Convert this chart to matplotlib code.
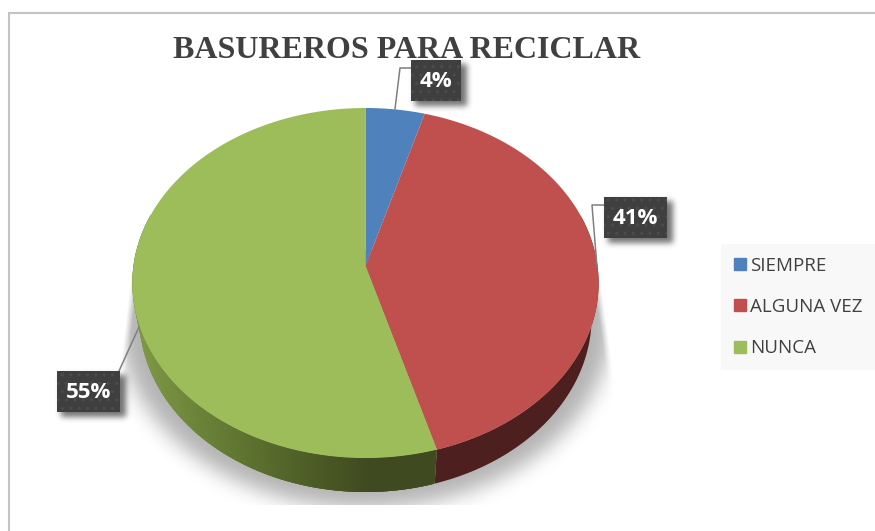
import numpy as np
import matplotlib
matplotlib.use("Agg")
import matplotlib.pyplot as plt
from matplotlib.patches import Rectangle
from matplotlib.lines import Line2D

TITLE = "BASUREROS PARA RECICLAR"
categories = ["SIEMPRE", "ALGUNA VEZ", "NUNCA"]
values = [4.5, 41.0, 54.5]
value_labels = ["4%", "41%", "55%"]
colors = ["#4f81bd", "#c0504d", "#9dbd5b"]

W, H = 875, 531
plt.rcParams['hatch.linewidth'] = 1.0
fig = plt.figure(figsize=(W / 100, H / 100), dpi=100)
ax = fig.add_axes([0, 0, 1, 1])
ax.set_xlim(0, W)
ax.set_ylim(H, 0)
ax.axis("off")

# perspective projection of a unit disc
CX, AY = 365.5, 266.0
UP, DOWN, HALF = 158.0, 192.0, 232.0
K = (DOWN - UP) / (DOWN + UP)
A = UP * (1 + K)
DEPTH = 34.0
SHRINK = 0.97


def proj(theta):
    u, v = np.sin(theta), np.cos(theta)
    d = 1 + K * v
    return CX + HALF * u / d, AY - A * v / d


def proj_low(theta):
    x, y = proj(theta)
    return CX + SHRINK * (x - CX), y + DEPTH


# soft shadows (under everything)
yy, xx = np.mgrid[0:H, 0:W] + 0.5


def blur(img, r):
    kern = np.exp(-0.5 * (np.arange(-3 * r, 3 * r + 1) / r) ** 2)
    kern /= kern.sum()
    img = np.apply_along_axis(lambda m: np.convolve(m, kern, "same"), 0, img)
    return np.apply_along_axis(lambda m: np.convolve(m, kern, "same"), 1, img)


ell = (((xx - CX) / 246.0) ** 2 + ((yy - 322.0) / 186.0) ** 2 < 1).astype(float)
shadow = blur(ell, 10) * 0.30
shadow[yy > 505] = 0
shadow[yy < 250] = 0
left_lim = 133 - (yy - 262) * 13 / 105
right_lim = 598 + (yy - 262) * 15 / 105
shadow *= np.clip((xx - left_lim) / 7, 0, 1) * np.clip((right_lim - xx) / 7, 0, 1)

boxes = [(411, 60, 50), (604, 197, 63), (57, 371, 63)]
BH = 41
bsh = np.zeros((H, W))
for bx, by, bw in boxes:
    bsh[by + 4:by + BH + 5, bx + 4:bx + bw + 6] = 1
bsh = blur(bsh, 3) * 0.55
alpha = 1 - (1 - shadow) * (1 - bsh)
rgba = np.zeros((H, W, 4))
rgba[..., 3] = alpha
ax.imshow(rgba, extent=(0, W, H, 0), aspect="auto", zorder=1, interpolation="nearest")
ax.set_xlim(0, W)
ax.set_ylim(H, 0)

# side wall
edges = 2 * np.pi * np.concatenate([[0], np.cumsum(values)]) / sum(values)
dark_red = "#4d1f1e"
green_side_stops = [(132, "#7f9a45"), (200, "#6a8238"), (300, "#4f6027"), (370, "#3f4a20"), (440, "#3f4a20")]
sx = [s[0] for s in green_side_stops]
srgb = np.array([matplotlib.colors.to_rgb(s[1]) for s in green_side_stops])

t_red = np.linspace(np.pi / 2 - 0.3, edges[2], 200)
xa, ya = proj(t_red)
xb, yb = proj_low(t_red)
ax.fill(np.r_[xa, xb[::-1]], np.r_[ya, yb[::-1]], color=dark_red, lw=0, zorder=2)

th = np.linspace(edges[2], 3 * np.pi / 2 + 0.3, 400)
for t0, t1 in zip(th[:-1], th[1:]):
    tm = (t0 + t1) / 2
    xa, ya = proj(np.array([t0, t1 + 0.012]))
    xb, yb = proj_low(np.array([t1 + 0.012, t0]))
    xm = proj(tm)[0]
    c = [np.interp(xm, sx, srgb[:, i]) for i in range(3)]
    ax.fill(np.r_[xa, xb], np.r_[ya, yb], color=c, lw=0, zorder=2)

# top faces
for i, (t0, t1) in enumerate(zip(edges[:-1], edges[1:])):
    t = np.linspace(t0, t1, 200)
    x, y = proj(t)
    ax.fill(np.r_[CX, x], np.r_[AY, y], color=colors[i], lw=0, zorder=3)

# frame (top and left only)
ax.plot([8.5, 8.5, W], [H, 13, 13], color="#c4c4c4", lw=1.5, zorder=0, solid_joinstyle="miter")

# leader lines
leaders = [([395, 400, 411], [109, 68, 68]),
           ([597, 592, 604], [267, 205, 205]),
           ([139, 119], [327, 371])]
for lx, ly in leaders:
    ax.plot(lx, ly, color="#7f7f7f", lw=1.1, zorder=4)

# value labels
for (bx, by, bw), txt in zip(boxes, value_labels):
    ax.add_patch(Rectangle((bx, by), bw, BH, fc="#3f3f40", ec="none", zorder=5))
    ax.add_patch(Rectangle((bx, by), bw, BH, fc="none", ec="#4c4c4d", hatch="..", lw=0, zorder=5.1))
    ax.text(bx + bw / 2, by + BH / 2 + 1, txt, color="white", family="Open Sans", weight="bold",
            fontsize=16, ha="center", va="center", zorder=6)

ax.text(406.5, 51, TITLE, family="Liberation Serif", weight="bold", color="#404040",
        fontsize=23.05, ha="center", va="center", zorder=4.5)

# legend
handles = [Line2D([], [], marker="s", ls="", color=c, markersize=8.6) for c in colors]
leg = ax.legend(handles, categories, loc="upper left", bbox_to_anchor=(721, 244),
                bbox_transform=ax.transData, frameon=True, fancybox=False,
                facecolor="#f8f8f8", edgecolor="none", framealpha=1,
                prop={"family": "Open Sans", "size": 13.5}, labelcolor="#404040",
                labelspacing=1.25, handlelength=0.7, handletextpad=0.18,
                borderpad=0.67, borderaxespad=0)
leg.set_zorder(7)

fig.savefig("out.png", dpi=100)
